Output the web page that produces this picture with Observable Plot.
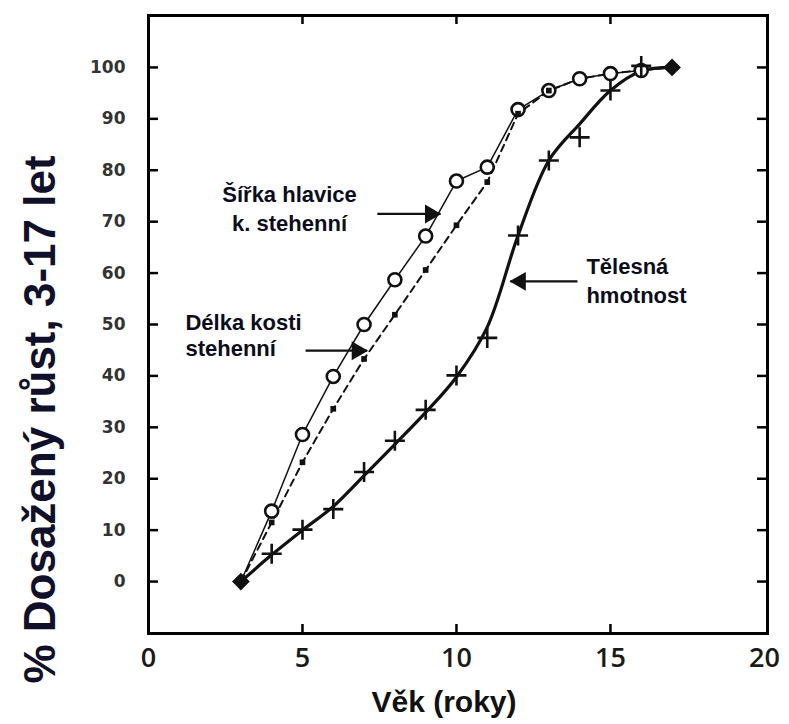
<!DOCTYPE html>
<html><head><meta charset="utf-8">
<script src="https://cdn.jsdelivr.net/npm/d3@7"></script>
<script src="https://cdn.jsdelivr.net/npm/@observablehq/plot@0.6"></script>
<style>body{margin:0;background:#fff}</style>
</head><body><div id="chart"></div>
<script>
// ---- data ----
const ages = [3,4,5,6,7,8,9,10,11,12,13,14,15,16,17];
const headWidth   = [0,13.7,28.6,39.9,50.0,58.7,67.2,77.9,80.6,91.8,95.5,97.8,98.8,99.4,100];   // Šířka hlavice k. stehenní (circles)
const femurLength = [0,11.5,23.2,33.6,43.3,51.9,60.6,69.3,77.7,91.0,95.5,97.8,98.8,99.5,100];   // Délka kosti stehenní (dashed)
const bodyMass    = [0,5.4,10.1,14.1,21.3,27.4,33.4,40.1,47.4,67.3,81.9,86.4,95.5,100.3,100];  // Tělesná hmotnost (crosses)
const bodyMassFit = [0,5.2,10.0,14.6,20.6,26.7,32.9,39.8,49.5,67.3,81.9,89.0,95.5,99.3,100];   // smooth curve

const xTicks = [0,5,10,15,20];
const xInnerTicks = [5,10,15];
const yTicks = [0,10,20,30,40,50,60,70,80,90,100];

const xTitle = "Věk (roky)";
const yTitle = "% Dosažený růst, 3-17 let";

const centerLabels = ["Šířka hlavice","k. stehenní"];
const centerLabelX = [4.58,4.58];
const centerLabelY = [75.1,69.6];
const startLabels = ["Délka kosti","stehenní","Tělesná","hmotnost"];
const startLabelX = [1.2,1.2,14.22,14.22];
const startLabelY = [50.3,45.3,61.1,55.6];

const arrowFromX = [7.43,5.1,13.93];
const arrowToX   = [9.48,7.1,11.75];
const arrowY     = [71.5,44.9,58.4];

// ---- tables ----
const rows = ages.map((a,i)=>({age:a, head:headWidth[i], femur:femurLength[i], mass:bodyMass[i], fit:bodyMassFit[i]}));
const inner = rows.filter(d=>d.age>3 && d.age<17);
const ends = rows.filter(d=>d.age===3 || d.age===17);
const femurDots = rows.filter(d=>d.age>3 && d.age<=13);
const arrows = arrowFromX.map((x,i)=>({x1:x, x2:arrowToX[i], y:arrowY[i], right: arrowToX[i]>x}));
const cLab = centerLabels.map((t,i)=>({t, x:centerLabelX[i], y:centerLabelY[i]}));
const sLab = startLabels.map((t,i)=>({t, x:startLabelX[i], y:startLabelY[i]}));

const W = 789, H = 724, mL = 148, mR = 22, mT = 15, mB = 91;
const frameW = W - mL - mR, frameH = H - mT - mB;
const ink = "#111";

const chart = Plot.plot({
  width: W, height: H,
  marginLeft: mL, marginRight: mR, marginTop: mT, marginBottom: mB,
  style: {fontFamily: "Liberation Sans, Arial, sans-serif", background: "#fff", overflow: "visible"},
  x: {domain: [0, 20.1]},
  y: {domain: [-10.1, 110.1]},
  marks: [
    Plot.line(rows, {x:"age", y:"femur", stroke: ink, strokeWidth: 2, strokeDasharray: "7,5"}),
    Plot.line(rows, {x:"age", y:"head", stroke: ink, strokeWidth: 1.5}),
    Plot.line(rows, {x:"age", y:"fit", stroke: ink, strokeWidth: 3.2, curve: "catmull-rom"}),
    Plot.dot(inner, {x:"age", y:"head", r: 6.5, fill: "#fff", stroke: ink, strokeWidth: 2.6}),
    Plot.dot(femurDots, {x:"age", y:"femur", symbol: "square", r: 3.2, fill: ink}),
    Plot.dot(inner, {x:"age", y:"mass", symbol: "plus", r: 6.5, stroke: ink, strokeWidth: 2.6}),
    Plot.dot(ends, {x:"age", y:"head", symbol: "diamond2", r: 8, fill: ink}),
    Plot.frame({stroke: "#000", strokeWidth: 3}),
    Plot.ruleX(xInnerTicks, {stroke: "#000", strokeWidth: 2.5, insetTop: frameH - 9}),
    Plot.ruleX(xInnerTicks, {stroke: "#000", strokeWidth: 2.5, insetBottom: frameH - 9}),
    Plot.ruleY(yTicks, {stroke: "#000", strokeWidth: 2.5, insetRight: frameW - 10}),
    Plot.ruleY(yTicks, {stroke: "#000", strokeWidth: 2.5, insetLeft: frameW - 10}),
    Plot.axisY({ticks: yTicks, tickSize: 0, tickPadding: 23, label: null, fontSize: 17, fontWeight: "bold", fontFamily: "DejaVu Sans", fill: "#333"}),
    Plot.axisX({ticks: xTicks, tickSize: 0, tickPadding: 14, label: null, fontSize: 27, fontFamily: "Open Sans", fontWeight: 600, fill: "#1a1a1a"}),
    Plot.link(arrows, {x1:"x1", x2:"x2", y1:"y", y2:"y", stroke: ink, strokeWidth: 2.2}),
    Plot.dot(arrows.filter(d=>d.right), {x:"x2", y:"y", symbol: "triangle", rotate: 90, r: 7, fill: ink, dx: -10}),
    Plot.dot(arrows.filter(d=>!d.right), {x:"x2", y:"y", symbol: "triangle", rotate: -90, r: 7, fill: ink, dx: 10}),
    Plot.text(cLab, {x:"x", y:"y", text:"t", textAnchor: "middle", fontSize: 22, fontWeight: "bold", fill: "#0c0c1c"}),
    Plot.text(sLab, {x:"x", y:"y", text:"t", textAnchor: "start", fontSize: 22, fontWeight: "bold", fill: "#0c0c1c"}),
    Plot.text([xTitle], {text: d=>d, frameAnchor: "bottom", textAnchor: "middle", lineAnchor: "middle", dy: 69, dx: -14, fontSize: 30, fontWeight: "bold", fill: "#111"}),
    Plot.text([yTitle], {text: d=>d, frameAnchor: "left", textAnchor: "middle", lineAnchor: "middle", dx: -108, dy: 95, rotate: -90, fontSize: 44, fontWeight: "bold", fill: "#10102a"})
  ]
});
document.getElementById("chart").appendChild(chart);
</script></body></html>
